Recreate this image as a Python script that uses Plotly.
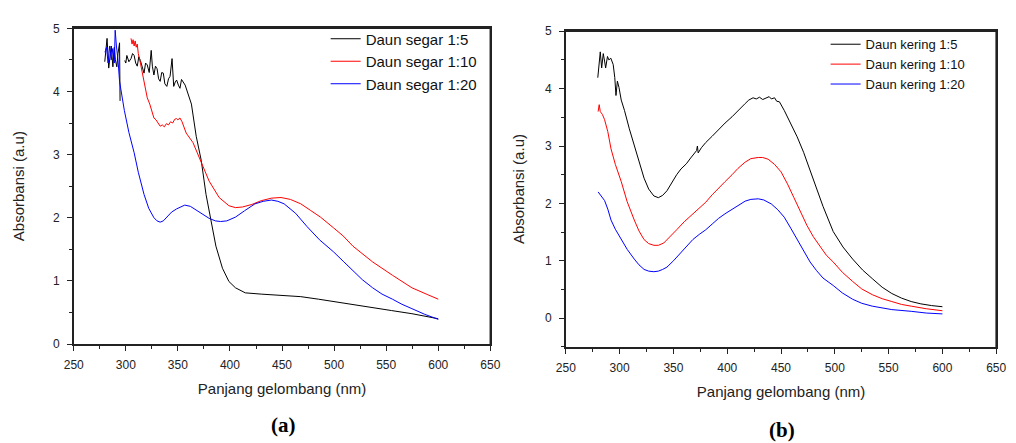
import plotly.graph_objects as go

# ---------------- data (a) Daun segar ----------------
seg5_x = [279.8, 281, 282, 283.6, 285, 286, 287.6, 289, 290, 291.4, 292.5, 294, 294.5, None,
          299, 300, 301, 303, 305, 306.5, 308, 309.5, 311, 312.5, 314, 316, 317.5, 319, 320.6,
          322.5, 324.4, 325.5, 327, 328.5, 330, 331.5, 333, 334.5, 336, 337.5, 339.4, 341, 342.5,
          344.4, 346, 347.5, 348.8, 350.5, 352, 353.5, 355, 357, 359.8, 363, 367.6, 372.4, 377,
          381.8, 386.5, 392.8, 399, 405.3, 414.7, 430, 450, 468, 485, 505.7, 520, 537, 555,
          574.7, 588, 600]
seg5_y = [4.47, 4.65, 4.84, 4.37, 4.55, 4.72, 4.39, 4.7, 4.5, 4.39, 4.6, 4.77, 3.85, None,
          4.49, 4.45, 4.57, 4.47, 4.52, 4.6, 4.57, 4.45, 4.4, 4.55, 4.49, 4.35, 4.29, 4.45, 4.42,
          4.3, 4.65, 4.4, 4.26, 4.4, 4.36, 4.2, 4.16, 4.3, 4.29, 4.12, 4.08, 4.2, 4.24,
          4.52, 4.08, 4.15, 4.18, 4.1, 4.05, 4.19, 4.15, 4.1, 3.96, 3.8, 3.29, 2.91, 2.37,
          1.96, 1.55, 1.2, 0.99, 0.89, 0.81, 0.79, 0.775, 0.75, 0.71, 0.66, 0.62, 0.58, 0.53,
          0.48, 0.44, 0.40]

seg10_x = [305, 306, 307, 308, 309, 310, 311, 312, 314, 316, 318, 320.6, 323, 325, 327, 329, 331,
           333, 335, 337, 339, 341, 343, 345, 347, 348.8, 350, 352, 354, 358, 364.5, 372.4, 380,
           389.6, 399, 405.3, 412, 421, 430, 439.8, 449, 458, 468, 477, 486.9, 499.4, 508.8, 518,
           537, 555.9, 574.7, 590, 600]
seg10_y = [4.84, 4.75, 4.82, 4.72, 4.8, 4.7, 4.75, 4.6, 4.45, 4.3, 4.1, 3.9, 3.8, 3.7, 3.58, 3.55,
           3.5, 3.45, 3.47, 3.44, 3.49, 3.47, 3.52, 3.5, 3.56, 3.57, 3.55, 3.58, 3.52, 3.34, 3.19,
           2.88, 2.58, 2.32, 2.19, 2.16, 2.17, 2.21, 2.27, 2.31, 2.32, 2.29, 2.22, 2.12, 2.01,
           1.84, 1.71, 1.55, 1.30, 1.09, 0.89, 0.78, 0.71]

seg20_x = [280, 281.5, 283, 284.5, 286, 287.5, 289, 289.8, 291, 292.5, 294, 296, 298.6, 303, 308,
           312, 317.5, 322, 327, 330, 333, 336, 340, 344, 348.8, 352, 356.6, 362, 367.6, 374, 380,
           386, 391, 397, 405.3, 414, 424, 432, 439.8, 446, 452, 463, 474, 486, 499.4, 508.8,
           518, 527, 537, 546, 556, 565, 574.7, 587, 600]
seg20_y = [4.62, 4.7, 4.45, 4.72, 4.5, 4.68, 4.45, 4.97, 4.72, 4.5, 4.16, 3.95, 3.7, 3.35, 3.03,
           2.72, 2.37, 2.15, 2.0, 1.95, 1.93, 1.95, 2.02, 2.09, 2.14, 2.17, 2.2, 2.18, 2.12, 2.05,
           1.99, 1.95, 1.94, 1.95, 2.01, 2.11, 2.22, 2.26, 2.28, 2.26, 2.22, 2.07, 1.86, 1.65,
           1.46, 1.31, 1.16, 1.02, 0.89, 0.79, 0.71, 0.63, 0.56, 0.47, 0.39]

# ---------------- data (b) Daun kering ----------------
ker5_x = [279.7, 281, 282, 283.3, 284.8, 286, 287, 288.7, 290, 291.8, 293, 294, 295.5, 296.6,
          297.9, 299.4, 301.5, 304.5, 309, 313.6, 318, 322.7, 327, 331.8, 336, 340, 344, 348, 353,
          357, 362, 366, 370, 371.5, 372.3, 373, 376, 380, 386, 392, 398, 404.5, 410, 416.7, 420,
          424, 427, 430, 433, 436, 439, 441, 444, 446, 448.5, 453, 459, 465, 471, 477, 483, 489,
          498.5, 507.6, 516.6, 525.8, 534.8, 544, 553, 562, 571, 580, 590, 600]
ker5_y = [4.19, 4.45, 4.64, 4.36, 4.61, 4.48, 4.36, 4.56, 4.5, 4.53, 4.48, 4.42, 4.19, 3.88,
          4.13, 4.02, 3.8, 3.62, 3.3, 3.0, 2.7, 2.44, 2.25, 2.13, 2.1, 2.14, 2.22, 2.35, 2.5,
          2.6, 2.69, 2.79, 2.88, 2.92, 3.0, 2.88, 2.97, 3.06, 3.17, 3.29, 3.4, 3.51, 3.62, 3.74,
          3.8, 3.84, 3.82, 3.85, 3.81, 3.84, 3.86, 3.82, 3.84, 3.78, 3.77, 3.62, 3.4, 3.16, 2.89,
          2.58, 2.27, 1.95, 1.51, 1.24, 1.03, 0.84, 0.69, 0.54, 0.43, 0.35, 0.29, 0.25, 0.22, 0.2]

ker10_x = [280, 281, 282, 284, 286, 289, 292, 296, 301.5, 307, 313.6, 318, 322.7, 327, 331.8, 336,
           341, 347, 353, 360, 368, 374, 380, 386, 392, 398, 404.5, 410, 416.7, 422, 428.8, 433,
           438, 444, 450, 456, 462, 468, 474, 480, 486, 492, 498.5, 507, 516.6, 525, 534.8, 544,
           553, 562, 571, 585, 600]
ker10_y = [3.6, 3.72, 3.6, 3.55, 3.46, 3.25, 2.95, 2.68, 2.38, 2.03, 1.71, 1.52, 1.37, 1.3, 1.27,
           1.27, 1.31, 1.42, 1.54, 1.68, 1.82, 1.93, 2.02, 2.15, 2.27, 2.38, 2.5, 2.61, 2.72, 2.78,
           2.8, 2.8, 2.77, 2.68, 2.55, 2.34, 2.1, 1.85, 1.62, 1.42, 1.25, 1.1, 0.98, 0.8, 0.64,
           0.51, 0.41, 0.34, 0.29, 0.24, 0.21, 0.165, 0.13]

ker20_x = [280, 283, 286, 289, 292, 296, 301.5, 307, 313.6, 318, 322.7, 327, 331.8, 336, 340, 344,
           350, 356, 362, 368, 374, 380, 386, 392, 398, 404.5, 410, 416.7, 422, 428.8, 434, 441,
           447, 453, 459, 465, 471, 477, 483, 489, 498.5, 507, 516.6, 525, 534.8, 553, 571, 585,
           600]
ker20_y = [2.2, 2.13, 2.05, 1.9, 1.71, 1.55, 1.37, 1.2, 1.03, 0.93, 0.85, 0.82, 0.81, 0.82, 0.85,
           0.89, 1.0, 1.12, 1.25, 1.37, 1.46, 1.54, 1.64, 1.74, 1.82, 1.9, 1.97, 2.04, 2.07, 2.08,
           2.06, 1.99, 1.89, 1.76, 1.57, 1.37, 1.17, 0.98, 0.83, 0.7, 0.57, 0.44, 0.33, 0.26,
           0.21, 0.15, 0.12, 0.09, 0.075]

names_a = ["Daun segar 1:5", "Daun segar 1:10", "Daun segar 1:20"]
names_b = ["Daun kering 1:5", "Daun kering 1:10", "Daun kering 1:20"]
colors = ["#000000", "#ff0000", "#0000ff"]
x_ticks = [250, 300, 350, 400, 450, 500, 550, 600, 650]
y_ticks = [0, 1, 2, 3, 4, 5]

W, H = 1016, 443
FONT = "Liberation Sans, Arial, sans-serif"
AXC = "#222222"

fig = go.Figure()
for xs, ys, nm, c in zip([seg5_x, seg10_x, seg20_x], [seg5_y, seg10_y, seg20_y], names_a, colors):
    fig.add_trace(go.Scatter(x=xs, y=ys, name=nm, mode="lines", line=dict(color=c, width=1),
                             xaxis="x", yaxis="y", legend="legend", connectgaps=False))
for xs, ys, nm, c in zip([ker5_x, ker10_x, ker20_x], [ker5_y, ker10_y, ker20_y], names_b, colors):
    fig.add_trace(go.Scatter(x=xs, y=ys, name=nm, mode="lines", line=dict(color=c, width=1),
                             xaxis="x2", yaxis="y2", legend="legend2"))


def px_x(p):
    return p / W


def px_y(p):
    return (H - p) / H


dom_a_x = [px_x(65), px_x(490)]
dom_a_y = [px_y(348), px_y(22)]
dom_b_x = [px_x(567), px_x(1006)]
dom_b_y = [px_y(351), px_y(25)]

tickfont = dict(family=FONT, size=12, color="#222222")
titlefont = dict(family=FONT, size=15, color="#222222")


def xax(domain, anchor):
    return dict(domain=domain, anchor=anchor, range=[250, 650], tickvals=x_ticks,
                ticks="outside", ticklen=5, tickwidth=1.2, tickcolor=AXC, ticklabelstandoff=4,
                showline=True, mirror=True, linecolor=AXC, linewidth=1.5,
                showgrid=False, zeroline=False,
                minor=dict(ticks="outside", ticklen=3, tickwidth=1.2, tickcolor=AXC, dtick=25),
                tickfont=tickfont,
                title=dict(text="Panjang gelombang (nm)", font=titlefont, standoff=12))


def yax(domain, anchor, rng, standoff):
    return dict(domain=domain, anchor=anchor, range=rng, tickvals=y_ticks,
                ticks="outside", ticklen=5, tickwidth=1.2, tickcolor=AXC, ticklabelstandoff=5,
                showline=True, mirror=True, linecolor=AXC, linewidth=1.5,
                showgrid=False, zeroline=False,
                minor=dict(ticks="outside", ticklen=3, tickwidth=1.2, tickcolor=AXC, dtick=0.5),
                tickfont=tickfont,
                title=dict(text="Absorbansi (a.u)", font=titlefont, standoff=standoff))


frame = dict(color=AXC, width=1.6)

fig.update_layout(
    width=W, height=H,
    margin=dict(l=0, r=0, t=0, b=0),
    paper_bgcolor="white", plot_bgcolor="white",
    xaxis=xax(dom_a_x, "y"),
    yaxis=yax(dom_a_y, "x", [0, 5], 25),
    xaxis2=xax(dom_b_x, "y2"),
    yaxis2=yax(dom_b_y, "x2", [-0.5, 5], 17),
    legend=dict(x=px_x(322), y=px_y(16), xanchor="left", yanchor="top",
                bgcolor="rgba(0,0,0,0)", font=dict(family=FONT, size=15, color="#111"),
                tracegroupgap=0),
    legend2=dict(x=px_x(832), y=px_y(23), xanchor="left", yanchor="top",
                 bgcolor="rgba(0,0,0,0)", font=dict(family=FONT, size=13, color="#111")),
    showlegend=True,
    shapes=[
        dict(type="line", xref="paper", yref="paper", x0=dom_a_x[0], x1=dom_a_x[1],
             y0=dom_a_y[1], y1=dom_a_y[1], line=frame, layer="above"),
        dict(type="line", xref="paper", yref="paper", x0=dom_a_x[1], x1=dom_a_x[1],
             y0=dom_a_y[0], y1=dom_a_y[1], line=frame, layer="above"),
        dict(type="line", xref="paper", yref="paper", x0=dom_b_x[0], x1=dom_b_x[1],
             y0=dom_b_y[1], y1=dom_b_y[1], line=frame, layer="above"),
        dict(type="line", xref="paper", yref="paper", x0=dom_b_x[1], x1=dom_b_x[1],
             y0=dom_b_y[0], y1=dom_b_y[1], line=frame, layer="above"),
    ],
    annotations=[
        dict(text="<b>(a)</b>", x=px_x(279), y=px_y(432), xref="paper", yref="paper",
             xanchor="center", yanchor="middle", showarrow=False,
             font=dict(family="Liberation Serif, Times New Roman, serif", size=21, color="#000")),
        dict(text="<b>(b)</b>", x=px_x(787), y=px_y(437), xref="paper", yref="paper",
             xanchor="center", yanchor="middle", showarrow=False,
             font=dict(family="Liberation Serif, Times New Roman, serif", size=21, color="#000")),
    ],
)

fig.write_html("out.html")
